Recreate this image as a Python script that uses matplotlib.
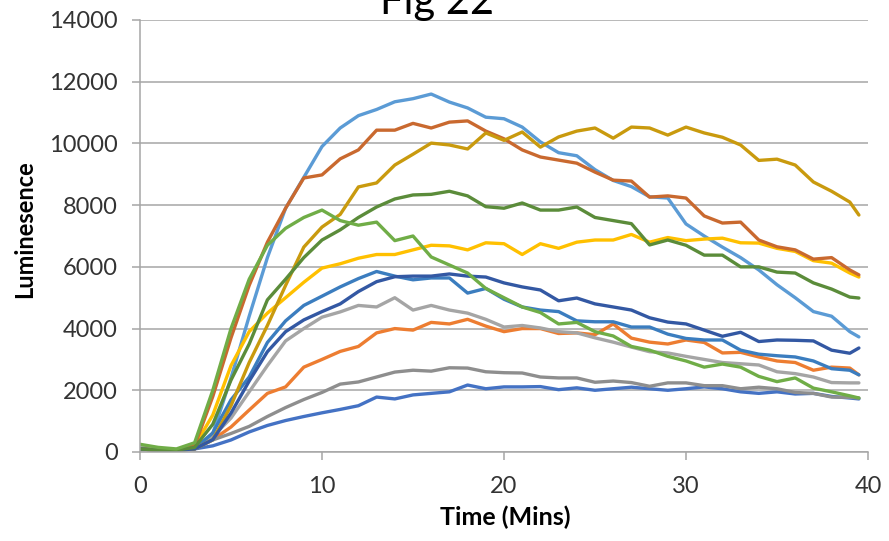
import matplotlib
matplotlib.use("Agg")
import matplotlib.pyplot as plt

plt.rcParams['font.family'] = ['Lato', 'DejaVu Sans']

# time points (minutes)
time_min = list(range(40)) + [39.5]

light_blue = [120, 80, 60, 120, 600, 2400, 4400, 6300, 7900, 8900,
              9900, 10500, 10900, 11100, 11350, 11450, 11600, 11340, 11150, 10850,
              10800, 10530, 10050, 9700, 9600, 9150, 8800, 8600, 8270, 8230,
              7390, 7000, 6640, 6300, 5900, 5420, 5000, 4550, 4400, 3900, 3730]
orange = [100, 60, 60, 100, 400, 810, 1360, 1900, 2110, 2750,
          3000, 3260, 3420, 3860, 4000, 3950, 4200, 4150, 4300, 4080,
          3900, 4000, 4000, 3840, 3860, 3800, 4150, 3690, 3560, 3500,
          3630, 3550, 3210, 3230, 3080, 2950, 2900, 2650, 2750, 2720, 2500]
light_gray = [200, 100, 60, 100, 500, 1100, 1950, 2800, 3600, 4000,
              4370, 4540, 4750, 4700, 5000, 4600, 4750, 4600, 4500, 4300,
              4050, 4100, 4020, 3900, 3860, 3700, 3560, 3400, 3250, 3210,
              3100, 3000, 2900, 2860, 2820, 2600, 2540, 2430, 2250, 2240, 2240]
yellow = [100, 60, 60, 200, 1200, 2800, 3900, 4500, 5000, 5500,
          5960, 6100, 6280, 6400, 6400, 6550, 6700, 6680, 6550, 6780,
          6750, 6400, 6750, 6600, 6800, 6870, 6870, 7050, 6800, 6950,
          6850, 6900, 6930, 6780, 6770, 6600, 6500, 6200, 6120, 5800, 5670]
blue = [100, 60, 60, 100, 200, 390, 650, 860, 1020, 1150,
        1270, 1380, 1500, 1780, 1720, 1850, 1900, 1950, 2170, 2050,
        2110, 2110, 2120, 2020, 2080, 2000, 2050, 2100, 2050, 2000,
        2050, 2110, 2050, 1950, 1900, 1950, 1880, 1900, 1800, 1750, 1720]
green = [250, 150, 100, 300, 2000, 4000, 5600, 6700, 7250, 7600,
         7840, 7500, 7350, 7450, 6850, 7000, 6320, 6060, 5800, 5300,
         5000, 4700, 4520, 4150, 4200, 3900, 3760, 3420, 3300, 3100,
         2950, 2750, 2850, 2750, 2450, 2280, 2400, 2070, 1950, 1820, 1750]
steel_blue = [100, 60, 60, 100, 620, 1690, 2430, 3550, 4250, 4750,
              5050, 5350, 5620, 5850, 5700, 5580, 5640, 5640, 5150, 5300,
              4950, 4700, 4600, 4550, 4250, 4220, 4220, 4050, 4050, 3820,
              3680, 3630, 3630, 3300, 3170, 3120, 3080, 2950, 2700, 2650, 2500]
rust = [100, 60, 60, 200, 1800, 3700, 5400, 6800, 7900, 8880,
        8980, 9500, 9790, 10430, 10430, 10650, 10500, 10690, 10730, 10400,
        10150, 9790, 9560, 9460, 9360, 9070, 8810, 8780, 8260, 8300,
        8230, 7650, 7420, 7450, 6870, 6650, 6550, 6250, 6300, 5900, 5740]
dark_gray = [100, 60, 60, 100, 390, 600, 830, 1150, 1440, 1700,
             1930, 2200, 2270, 2430, 2590, 2650, 2620, 2730, 2720, 2600,
             2570, 2560, 2430, 2400, 2400, 2260, 2300, 2250, 2130, 2240,
             2240, 2150, 2150, 2050, 2100, 2050, 1930, 1900, 1780, 1770, 1750]
dark_gold = [100, 60, 60, 100, 400, 1500, 2900, 4100, 5400, 6640,
             7290, 7700, 8590, 8720, 9300, 9650, 10010, 9950, 9820, 10340,
             10100, 10370, 9880, 10210, 10400, 10500, 10170, 10530, 10500, 10270,
             10530, 10340, 10200, 9950, 9450, 9490, 9300, 8750, 8450, 8100, 7680]
dark_blue = [100, 60, 60, 100, 400, 1260, 2300, 3250, 3900, 4280,
             4550, 4800, 5200, 5520, 5680, 5700, 5700, 5770, 5700, 5670,
             5480, 5350, 5250, 4900, 4990, 4800, 4700, 4600, 4350, 4210,
             4150, 3950, 3750, 3880, 3580, 3630, 3620, 3600, 3300, 3200, 3370]
dark_green = [100, 60, 60, 150, 900, 2330, 3500, 4930, 5600, 6300,
              6870, 7200, 7600, 7940, 8200, 8330, 8350, 8450, 8300, 7950,
              7900, 8070, 7840, 7840, 7940, 7600, 7500, 7400, 6710, 6870,
              6700, 6380, 6380, 6000, 6000, 5830, 5800, 5480, 5280, 5020, 4990]

series = [
    (light_blue, '#5B9BD5'),
    (orange, '#ED7D31'),
    (light_gray, '#A5A5A5'),
    (yellow, '#FFC000'),
    (blue, '#4472C4'),
    (steel_blue, '#3B7DBF'),
    (rust, '#C9692F'),
    (dark_gray, '#8E8E8E'),
    (dark_gold, '#C99A0E'),
    (dark_blue, '#3358A3'),
    (dark_green, '#5B8C3A'),
    (green, '#70AD47'),
]

fig = plt.figure(figsize=(8.89, 5.41), dpi=100)
ax = fig.add_axes([140 / 889, 1 - 452 / 541, 728 / 889, 432 / 541])

for vals, col in series:
    ax.plot(time_min, vals, color=col, lw=2.4, solid_joinstyle='round', solid_capstyle='round')

ax.set_xlim(0, 40)
ax.set_ylim(0, 14000)
ax.set_xticks([0, 10, 20, 30, 40])
ax.set_yticks(range(0, 14001, 2000))
ax.grid(axis='y', color='#A6A6A6', lw=1.1)
ax.set_axisbelow(True)
for s in ['top', 'right']:
    ax.spines[s].set_visible(False)
for s in ['left', 'bottom']:
    ax.spines[s].set_color('#A6A6A6')
    ax.spines[s].set_linewidth(1.1)
ax.tick_params(axis='both', colors='#A6A6A6', labelcolor='#333333', labelsize=17, length=6, width=1.1)
ax.tick_params(axis='x', pad=11)
ax.tick_params(axis='y', pad=10)

fig.text(505 / 889, 1 - 517 / 541, 'Time (Mins)', ha='center', va='center', fontsize=18, fontweight='bold')
fig.text(25 / 889, 1 - 229 / 541, 'Luminesence', ha='center', va='center', rotation=90, fontsize=17, fontweight='bold')
fig.text(437 / 889, 1 - 14 / 541, 'Fig 22', ha='center', va='baseline', fontsize=30)

fig.savefig('out.png', dpi=100)
